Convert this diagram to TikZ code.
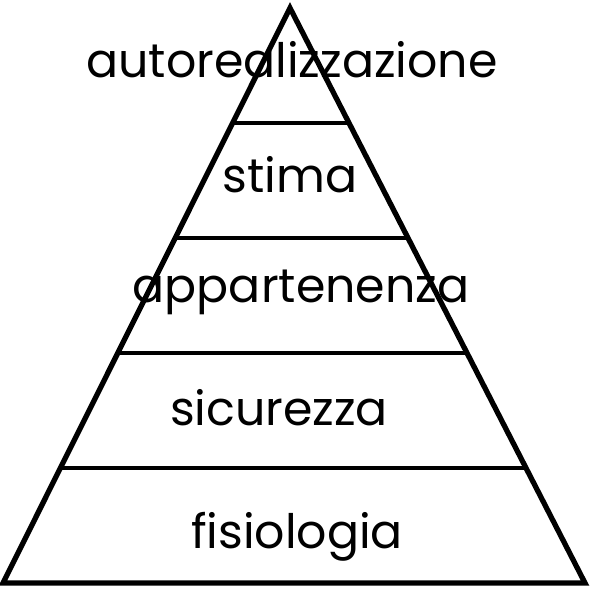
\documentclass[tikz,border=0pt]{standalone}
\usepackage{fontspec}
\setmainfont{Poppins}
\usetikzlibrary{calc}
\tikzset{
	lato/.style={line width=3pt},
	gradino/.style={line width=2.2pt},
	livello/.style={font=\fontsize{27}{29}\selectfont, inner sep=0pt, anchor=base}
}

\begin{document}
\begin{tikzpicture}[x=0.02cm, y=-0.02cm]
	\useasboundingbox (0,0) rectangle (591,591);
	% piramide
	\coordinate (apice) at (290,8);
	\coordinate (sx) at (3,583);
	\coordinate (dx) at (585,583);
	\draw[lato] (apice) -- (sx) -- (dx) -- cycle;
	\foreach \t in {0.2,0.4,0.6,0.8}
		\draw[gradino] ($(apice)!\t!(sx)$) -- ($(apice)!\t!(dx)$);
	% livelli
	\node[livello] (autorealizzazione) at (292,78) {autorealizzazione};
	\node[livello] (stima) at (290,193) {stima};
	\node[livello] (appartenenza) at (301,302) {appartenenza};
	\node[livello] (sicurezza) at (279,425) {sicurezza};
	\node[livello] (fisiologia) at (297,548) {fisiologia};
\end{tikzpicture}
\end{document}
